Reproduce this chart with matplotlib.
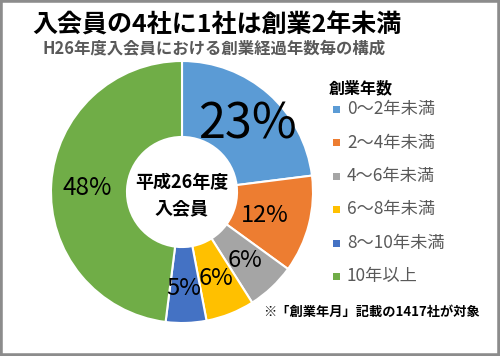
import matplotlib
matplotlib.use('Agg')
import matplotlib.pyplot as plt
from matplotlib.patches import Rectangle

plt.rcParams['font.family'] = ['Noto Sans CJK JP', 'DejaVu Sans']

categories = ['0～2年未満', '2～4年未満', '4～6年未満', '6～8年未満', '8～10年未満', '10年以上']
shares = [23, 12, 6, 6, 5, 48]
colors = ['#5B9BD5', '#ED7D31', '#A5A5A5', '#FFC000', '#4472C4', '#70AD47']

# label positions (data coords, pie radius 1) and font sizes
label_pos = [(0.50, 0.51), (0.63, -0.18), (0.48, -0.52), (0.26, -0.66), (0.015, -0.735), (-0.72, 0.03)]
label_size = [35, 17, 17, 17, 17, 17.5]


def main():
    W, H = 500, 356
    fig = plt.figure(figsize=(5, 3.56), dpi=100)
    cx, cy, r = 182, 192, 131
    ax = fig.add_axes([(cx - r) / W, (H - cy - r) / H, 2 * r / W, 2 * r / H])
    ax.pie(shares, colors=colors, startangle=90, counterclock=False, radius=1,
           wedgeprops=dict(width=0.58, edgecolor='white', linewidth=1.5))
    ax.set_xlim(-1, 1)
    ax.set_ylim(-1, 1)
    ax.set_aspect('equal')
    ax.axis('off')

    for v, (x, y), fs in zip(shares, label_pos, label_size):
        ax.text(x, y, f'{v}%', ha='center', va='center', fontsize=fs, color='black')

    ax.text(0, 0.075, '平成26年度', ha='center', va='center', fontsize=13, fontweight='bold')
    ax.text(0, -0.13, '入会員', ha='center', va='center', fontsize=13, fontweight='bold')

    # titles
    fig.text(32 / W, 1 - 25 / H, '入会員の4社に1社は創業2年未満', ha='left', va='center',
             fontsize=18, fontweight='bold', color='black')
    fig.text(43 / W, 1 - 48 / H, 'H26年度入会員における創業経過年数毎の構成', ha='left', va='center',
             fontsize=11.8, fontweight='bold', color='#595959')

    # legend
    fig.text(329 / W, 1 - 88 / H, '創業年数', ha='left', va='center',
             fontsize=11.5, fontweight='bold', color='black')
    ys = [109, 143, 176, 209, 243, 276]
    for cat, col, y in zip(categories, colors, ys):
        fig.patches.append(Rectangle(((336 - 3.5) / W, 1 - (y + 3.5) / H), 7 / W, 7 / H,
                                     transform=fig.transFigure, facecolor=col, edgecolor='none'))
        fig.text(347 / W, 1 - y / H, cat, ha='left', va='center', fontsize=12.4, color='#595959')

    fig.text(263 / W, 1 - 312 / H, '※「創業年月」記載の1417社が対象', ha='left', va='center',
             fontsize=9.5, fontweight='bold', color='black')

    # frame
    fig.patches.append(Rectangle((0, 0), 1, 1, transform=fig.transFigure, fill=False,
                                 edgecolor='#8c8c8c', linewidth=4))

    fig.savefig('out.png', dpi=100, facecolor='white')


if __name__ == '__main__':
    main()
